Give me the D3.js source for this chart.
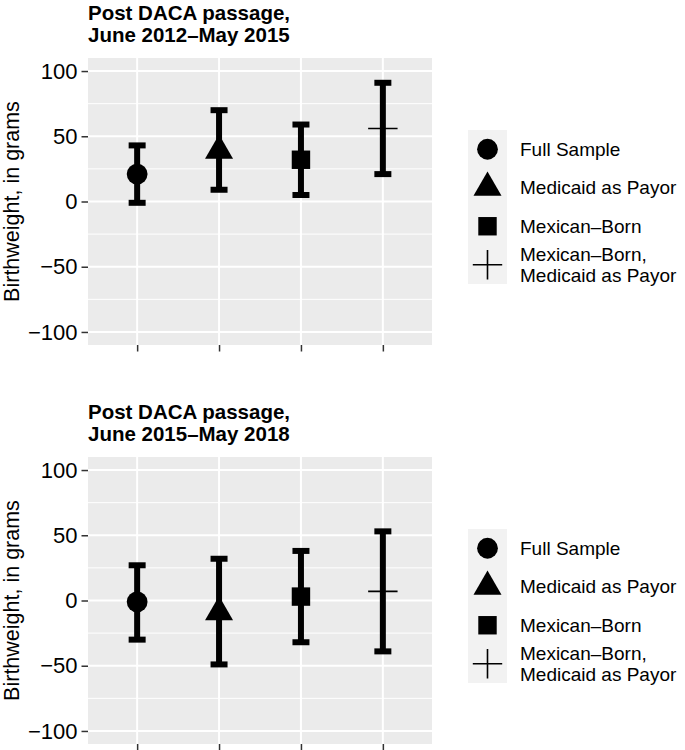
<!DOCTYPE html>
<html>
<head>
<meta charset="utf-8">
<script src="https://cdn.jsdelivr.net/npm/d3@7"></script>
<style>
  body { margin: 0; background: #fff; }
  svg { display: block; font-family: "Liberation Sans", Arial, Helvetica, sans-serif; }
</style>
</head>
<body>
<script>
// Groups, in x order
const groups = ['Full Sample', 'Medicaid as Payor', 'Mexican–Born', 'Mexican–Born,\nMedicaid as Payor'];
const shapes = ['circle', 'triangle', 'square', 'cross'];

// Panel 1: June 2012–May 2015
const est2012 = [21, 39, 32, 56];
const lo2012 = [-1, 9, 5, 21];
const hi2012 = [43, 70, 59, 91];

// Panel 2: June 2015–May 2018
const est2015 = [-1, -9, 3, 7];
const lo2015 = [-30, -49, -32, -39];
const hi2015 = [27, 32, 38, 53];

const titles = [
  ['Post DACA passage,', 'June 2012–May 2015'],
  ['Post DACA passage,', 'June 2015–May 2018']
];
const yTicks = [-100, -50, 0, 50, 100];
const yMinor = [-75, -25, 25, 75];
const yLabel = 'Birthweight, in grams';

const W = 685, H = 750;
const svg = d3.select('body').append('svg').attr('width', W).attr('height', H);

const R = 10.4; // point radius base
function shapePath(s) {
  if (s === 'circle') return d3.symbol(d3.symbolCircle, Math.PI * R * R)();
  if (s === 'square') { const h = 0.886 * R; return `M${-h},${-h}H${h}V${h}H${-h}Z`; }
  if (s === 'triangle') {
    const t = 1.555 * R, b = 0.778 * R, w = 1.347 * R;
    return `M0,${-t}L${w},${b}L${-w},${b}Z`;
  }
  const c = 1.414 * R;
  return `M${-c},0H${c}M0,${-c}V${c}`;
}

function drawPanel(dy, title, est, lo, hi) {
  const g = svg.append('g').attr('transform', `translate(0,${dy})`);
  const left = 88, right = 432, top = 58, bottom = 345;

  const x = d3.scalePoint().domain(groups).range([left, right]).padding(0.6);
  const y = d3.scaleLinear().domain([-110, 110]).range([bottom, top]);

  // panel background
  g.append('rect').attr('x', left).attr('y', top)
    .attr('width', right - left).attr('height', bottom - top).attr('fill', '#EBEBEB');

  // grid
  g.selectAll('.minor').data(yMinor).join('line')
    .attr('x1', left).attr('x2', right).attr('y1', d => y(d)).attr('y2', d => y(d))
    .attr('stroke', '#fff').attr('stroke-width', 1);
  g.selectAll('.major').data(yTicks).join('line')
    .attr('x1', left).attr('x2', right).attr('y1', d => y(d)).attr('y2', d => y(d))
    .attr('stroke', '#fff').attr('stroke-width', 2);
  g.selectAll('.vmajor').data(groups).join('line')
    .attr('x1', d => x(d)).attr('x2', d => x(d)).attr('y1', top).attr('y2', bottom)
    .attr('stroke', '#fff').attr('stroke-width', 2);

  // y axis
  const yAxis = g.append('g').attr('transform', `translate(${left},0)`)
    .call(d3.axisLeft(y).tickValues(yTicks).tickSize(6.5).tickPadding(4));
  yAxis.select('.domain').remove();
  yAxis.selectAll('line').attr('stroke', '#333').attr('stroke-width', 1.5);
  yAxis.selectAll('text').attr('font-size', 22).attr('fill', '#000')
    .attr('font-family', '"Liberation Sans", Arial, sans-serif');

  // x ticks, no labels
  const xAxis = g.append('g').attr('transform', `translate(0,${bottom})`)
    .call(d3.axisBottom(x).tickSize(6.5).tickFormat(''));
  xAxis.select('.domain').remove();
  xAxis.selectAll('line').attr('stroke', '#333').attr('stroke-width', 1.5);

  // y label
  g.append('text')
    .attr('transform', `translate(19,${(top + bottom) / 2}) rotate(-90)`)
    .attr('text-anchor', 'middle').attr('font-size', 21.5).attr('fill', '#000')
    .text(yLabel);

  // title
  g.append('text').attr('x', left).attr('y', 19.5)
    .attr('font-size', 20.5).attr('font-weight', 'bold').attr('fill', '#000')
    .selectAll('tspan').data(title).join('tspan')
    .attr('x', left).attr('dy', (d, i) => i === 0 ? 0 : 22.5).text(d => d);

  // error bars
  const cap = 8.5;
  groups.forEach((grp, i) => {
    const cx = x(grp);
    const bars = g.append('g').attr('stroke', '#000').attr('stroke-width', 6).attr('fill', 'none');
    bars.append('line').attr('x1', cx).attr('x2', cx).attr('y1', y(hi[i])).attr('y2', y(lo[i]));
    bars.append('line').attr('x1', cx - cap).attr('x2', cx + cap).attr('y1', y(hi[i])).attr('y2', y(hi[i]));
    bars.append('line').attr('x1', cx - cap).attr('x2', cx + cap).attr('y1', y(lo[i])).attr('y2', y(lo[i]));
  });

  // points
  groups.forEach((grp, i) => {
    const s = shapes[i];
    g.append('path').attr('transform', `translate(${x(grp)},${y(est[i])})`)
      .attr('d', shapePath(s))
      .attr('fill', s === 'cross' ? 'none' : '#000')
      .attr('stroke', s === 'cross' ? '#000' : 'none')
      .attr('stroke-width', 1.6);
  });

  // legend
  const keyX = 468, keyW = 39, keyTop = 130, keyH = 38.5;
  const lg = g.append('g');
  lg.append('rect').attr('x', keyX).attr('y', keyTop)
    .attr('width', keyW).attr('height', keyH * groups.length).attr('fill', '#F2F2F2');
  groups.forEach((grp, i) => {
    const cy = keyTop + keyH * (i + 0.5);
    const s = shapes[i];
    lg.append('path').attr('transform', `translate(${keyX + keyW / 2},${cy})`)
      .attr('d', shapePath(s))
      .attr('fill', s === 'cross' ? 'none' : '#000')
      .attr('stroke', s === 'cross' ? '#000' : 'none')
      .attr('stroke-width', 1.6);
    const lines = grp.split('\n');
    const t = lg.append('text').attr('font-size', 19).attr('fill', '#000');
    lines.forEach((ln, j) => {
      t.append('tspan').attr('x', 520)
        .attr('y', cy + (j - (lines.length - 1) / 2) * 20.5)
        .attr('dy', '0.35em').text(ln);
    });
  });
}

drawPanel(0, titles[0], est2012, lo2012, hi2012);
drawPanel(399, titles[1], est2015, lo2015, hi2015);
</script>
</body>
</html>
